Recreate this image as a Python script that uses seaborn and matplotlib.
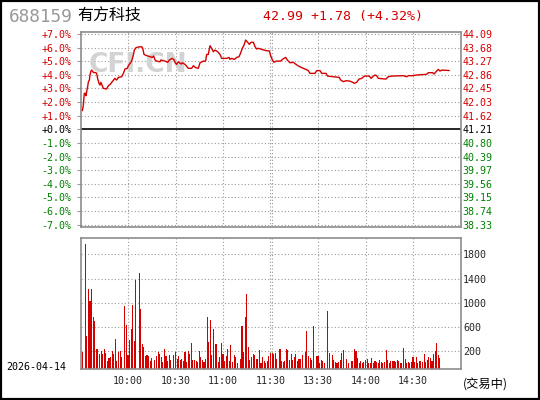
import numpy as np
import matplotlib
matplotlib.use("Agg")
import matplotlib.pyplot as plt
import seaborn as sns

# header / labels
stock_code = "688159"
stock_name = "有方科技"
quote_text = "42.99 +1.78 (+4.32%)"
date_text = "2026-04-14"
status_text = "(交易中)"

# percent axis (left) and price axis (right)
pct_ticks = [7, 6, 5, 4, 3, 2, 1, 0, -1, -2, -3, -4, -5, -6, -7]
pct_labels = ["+7.0%", "+6.0%", "+5.0%", "+4.0%", "+3.0%", "+2.0%", "+1.0%", "+0.0%",
              "-1.0%", "-2.0%", "-3.0%", "-4.0%", "-5.0%", "-6.0%", "-7.0%"]
price_labels = ["44.09", "43.68", "43.27", "42.86", "42.45", "42.03", "41.62", "41.21",
                "40.80", "40.39", "39.97", "39.56", "39.15", "38.74", "38.33"]

# time axis (minutes since 9:30, lunch break removed)
time_ticks = [30, 60, 90, 120, 150, 180, 210]
time_labels = ["10:00", "10:30", "11:00", "11:30", "13:30", "14:00", "14:30"]
grid_minutes = [30, 60, 90, 119.6, 120.9, 150, 180, 210]

vol_ticks = [200, 600, 1000, 1400, 1800]
vol_labels = ["200", "600", "1000", "1400", "1800"]

# price line (minute, % change vs prev close)
line_t = [1.2, 1.8, 2.4, 3.3, 3.5, 3.9, 4.5, 5.0, 5.6, 6.0,
          6.6, 7.1, 8.1, 9.6, 10.2, 10.8, 11.7, 12.3, 12.9, 13.8,
          14.4, 16.5, 17.2, 18.0, 18.8, 19.7, 20.9, 21.6, 22.8, 23.9,
          26.0, 27.1, 28.1, 29.6, 30.2, 31.3, 32.3, 33.4, 34.0, 35.1,
          36.5, 38.6, 39.3, 40.1, 41.8, 43.9, 45.4, 46.2, 47.1, 48.1,
          50.2, 50.8, 53.4, 55.1, 56.1, 58.0, 59.1, 59.7, 60.7, 61.8,
          63.5, 64.3, 66.0, 68.1, 70.2, 71.3, 72.7, 74.4, 75.5, 77.6,
          79.0, 79.7, 80.7, 81.8, 82.8, 83.9, 84.9, 86.6, 88.1, 89.2,
          92.3, 93.8, 94.4, 95.5, 97.2, 98.6, 100.1, 101.2, 102.2, 103.3,
          104.3, 105.6, 106.6, 107.7, 109.2, 110.2, 111.3, 112.3, 114.4, 117.6,
          119.3, 120.1, 121.2, 122.2, 123.5, 126.4, 127.1, 128.5, 129.6, 130.6,
          132.3, 134.4, 136.1, 137.6, 139.7, 141.8, 143.9, 144.9, 148.1, 149.2,
          151.3, 152.3, 155.1, 156.0, 163.5, 164.3, 166.0, 167.7, 170.2, 171.9,
          172.9, 174.4, 175.9, 177.6, 179.3, 182.4, 183.5, 184.5, 186.0, 187.0,
          188.1, 192.9, 194.4, 196.5, 203.9, 206.0, 207.1, 209.8, 212.3, 218.6,
          219.7, 222.4, 223.3, 224.5, 226.0, 227.0, 228.1, 232.9]
line_pct = [1.37, 1.78, 2.64, 2.64, 2.47, 2.76, 3.13, 3.50, 3.62, 3.99,
            4.28, 4.35, 4.18, 4.16, 4.11, 3.74, 3.37, 3.25, 3.45, 3.18,
            3.01, 2.96, 3.13, 3.25, 3.30, 3.45, 3.62, 3.74, 3.62, 3.81,
            3.86, 4.11, 4.43, 4.48, 4.67, 4.84, 5.01, 5.46, 5.82, 6.00,
            6.04, 6.07, 5.95, 5.50, 5.41, 5.33, 5.28, 5.38, 5.09, 5.01,
            4.96, 5.09, 5.01, 4.92, 5.09, 5.21, 5.09, 4.92, 4.77, 4.96,
            4.79, 4.89, 4.77, 4.48, 4.48, 4.67, 4.53, 4.48, 4.89, 5.01,
            5.01, 5.50, 5.50, 6.14, 5.95, 5.70, 5.82, 5.70, 5.50, 5.21,
            5.21, 5.28, 5.14, 5.21, 5.14, 5.28, 5.33, 5.62, 5.95, 6.19,
            6.56, 6.39, 6.24, 6.39, 6.39, 6.07, 5.90, 5.95, 5.87, 5.77,
            5.75, 5.41, 5.09, 4.92, 5.01, 5.01, 5.09, 5.21, 5.28, 5.09,
            4.89, 4.92, 4.77, 4.65, 4.53, 4.43, 4.31, 4.11, 4.11, 4.31,
            4.31, 4.11, 4.11, 3.91, 3.81, 3.62, 3.50, 3.57, 3.54, 3.45,
            3.38, 3.45, 3.69, 3.74, 3.91, 3.91, 3.74, 3.86, 3.99, 3.94,
            3.74, 3.69, 3.86, 3.91, 3.94, 3.86, 3.94, 3.94, 3.99, 4.04,
            4.16, 4.16, 4.06, 4.23, 4.40, 4.28, 4.35, 4.32]

# per-minute volume (minute 1 .. 227), 0 = no bar
volume = [190, 0, 1964, 452, 1225, 1033, 1225, 764, 699, 238,
          238, 156, 200, 156, 238, 173, 36, 90, 107, 200,
          156, 403, 36, 189, 200, 107, 0, 940, 627, 140,
          386, 567, 962, 370, 1373, 0, 1488, 896, 320, 271,
          123, 140, 123, 47, 90, 0, 58, 123, 189, 156,
          107, 25, 238, 123, 41, 140, 58, 0, 140, 189,
          74, 123, 58, 74, 41, 189, 25, 205, 156, 337,
          58, 58, 41, 25, 205, 107, 58, 25, 74, 764,
          353, 715, 140, 567, 320, 320, 25, 107, 337, 156,
          41, 123, 238, 41, 304, 25, 140, 107, 8, 0,
          74, 616, 189, 764, 1143, 271, 58, 107, 156, 140,
          74, 74, 222, 8, 107, 41, 8, 41, 123, 173,
          173, 156, 173, 74, 0, 238, 41, 25, 41, 238,
          222, 58, 156, 58, 107, 156, 41, 74, 74, 140,
          0, 189, 529, 123, 90, 58, 616, 0, 123, 123,
          8, 58, 41, 8, 0, 867, 173, 0, 140, 58,
          25, 8, 25, 58, 173, 222, 0, 74, 8, 0,
          41, 41, 238, 205, 90, 8, 41, 8, 25, 58,
          74, 8, 8, 90, 8, 41, 25, 8, 58, 25,
          8, 25, 222, 58, 8, 41, 41, 41, 25, 58,
          41, 8, 8, 255, 74, 8, 25, 8, 25, 107,
          25, 107, 8, 41, 41, 25, 156, 25, 58, 107,
          90, 41, 156, 205, 337, 140, 90]

RED = "#d40000"
GREEN = "#008000"
GRID = "#9a9a9a"
SPINE = "#8c8c8c"

sns.set_style("white")
plt.rcParams['font.family'] = ['DejaVu Sans Mono', 'Noto Sans CJK SC']
plt.rcParams['font.size'] = 7.2

W, H = 540, 400
fig = plt.figure(figsize=(W / 100, H / 100), dpi=100)


def fx(x):
    return x / W


def fy(y):
    return 1 - y / H


def sign_color(v):
    if v > 0:
        return RED
    if v < 0:
        return GREEN
    return "black"


dotted = (0, (1, 2))

# ---- price panel ----
ax_p = fig.add_axes([fx(80.5), fy(227.3), 380 / W, 195.6 / H])
ax_p.set_xlim(0, 240)
ax_p.set_ylim(-7.2, 7.17)
for p in pct_ticks:
    if p != 0:
        ax_p.axhline(p, color=GRID, ls=dotted, lw=0.8, zorder=1)
for g in grid_minutes:
    ax_p.axvline(g, color=GRID, ls=dotted, lw=0.8, zorder=1)
ax_p.axhline(0, color="black", lw=1.2, zorder=2)

ax_p.text(0.152, 0.831, "CFI.CN", transform=ax_p.transAxes, fontsize=19,
          fontweight="bold", family="DejaVu Sans", color="#d3d3d3",
          ha="center", va="center", zorder=1)

sns.lineplot(x=line_t, y=line_pct, ax=ax_p, color=RED, linewidth=1.0, zorder=3)

ax_p.set_xticks([])
ax_p.set_yticks(pct_ticks)
ax_p.set_yticklabels(pct_labels)
ax_p.tick_params(axis="y", length=3.2, width=0.8, color=GRID, pad=3.2)
for lab, p in zip(ax_p.get_yticklabels(), pct_ticks):
    lab.set_color(sign_color(p))
ax_p.set_xlabel("")
ax_p.set_ylabel("")

ax_r = ax_p.twinx()
ax_r.set_ylim(ax_p.get_ylim())
ax_r.set_yticks(pct_ticks)
ax_r.set_yticklabels(price_labels)
ax_r.tick_params(axis="y", length=0, pad=1.2)
for lab, p in zip(ax_r.get_yticklabels(), pct_ticks):
    lab.set_color(sign_color(p))
for s in ax_r.spines.values():
    s.set_visible(False)

for s in ax_p.spines.values():
    s.set_color(SPINE)
    s.set_linewidth(1.2)

# ---- volume panel ----
ax_v = fig.add_axes([fx(80.5), fy(369.3), 380 / W, 131 / H])
vlo, vhi = -97, 2064
ax_v.set_xlim(0, 240)
ax_v.set_ylim(vlo, vhi)
for v in vol_ticks:
    ax_v.axhline(v, color=GRID, ls=dotted, lw=0.8, zorder=1)
for g in grid_minutes:
    ax_v.axvline(g, color=GRID, ls=dotted, lw=0.8, zorder=1)

minutes = np.arange(1, len(volume) + 1)
vol = np.array(volume, dtype=float)
keep = vol > 0
ax_v.bar(minutes[keep], vol[keep] - vlo, bottom=vlo, width=0.7,
         color=RED, linewidth=0, zorder=2)

ax_v.yaxis.tick_right()
ax_v.set_yticks(vol_ticks)
ax_v.set_yticklabels(vol_labels)
ax_v.set_xticks(time_ticks)
ax_v.set_xticklabels(time_labels)
ax_v.tick_params(axis="y", length=0, pad=2)
ax_v.tick_params(axis="x", length=0, pad=5)
for s in ax_v.spines.values():
    s.set_color(SPINE)
    s.set_linewidth(1.2)

# ---- header and side texts ----
fig.text(fx(8.6), fy(16.5), stock_code, fontsize=12.8, color="#999999",
         ha="left", va="center")
fig.text(fx(77), fy(16.5), stock_name, fontsize=11.5, color="black",
         family="Noto Sans CJK SC", ha="left", va="center")
fig.text(fx(263), fy(16.5), quote_text, fontsize=9.5, color=RED,
         ha="left", va="center")
fig.text(fx(36.5), fy(367), date_text, color="black", ha="center", va="center")
fig.text(fx(485.5), fy(385), status_text, fontsize=8.8, color="black",
         family="Noto Sans CJK SC", ha="center", va="center")

fig.add_artist(plt.Rectangle((0, 0), 1, 1, transform=fig.transFigure,
                             fill=False, edgecolor="black", linewidth=3))

fig.savefig("out.png", dpi=100)
